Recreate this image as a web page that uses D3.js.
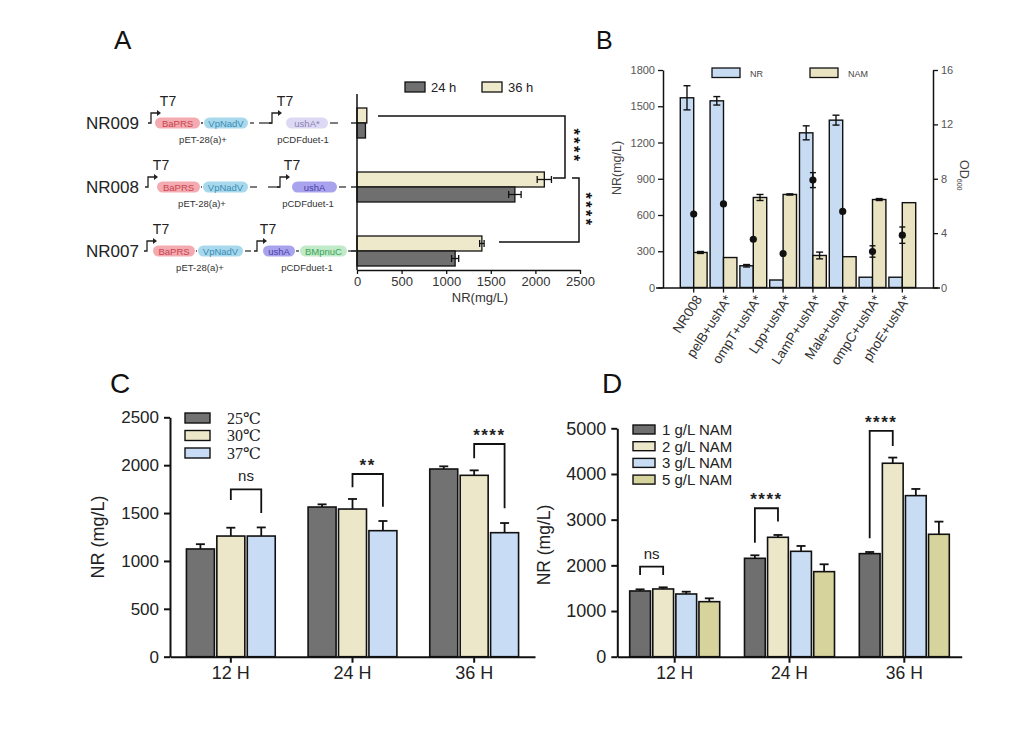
<!DOCTYPE html>
<html><head><meta charset="utf-8">
<script src="https://cdn.jsdelivr.net/npm/d3@7"></script>
<style>body{margin:0;background:#fff} svg{display:block}</style>
</head><body>
<svg id="chart" width="1024" height="738"></svg>
<script>
// ================= DATA =================
// Panel A
const aStrains = ["NR009", "NR008", "NR007"];
const aTimes = ["24 h", "36 h"];
const aNR24 = [95, 1770, 1100];
const aNR24Err = [0, 70, 40];
const aNR36 = [110, 2100, 1400];
const aNR36Err = [0, 80, 25];
const aTicks = [0, 500, 1000, 1500, 2000, 2500];
const aPlasmid1 = ["BaPRS", "VpNadV"];
const aPlasmid2 = [["ushA*"], ["ushA"], ["ushA", "BMpnuC"]];
const aBackbones = ["pET-28(a)+", "pCDFduet-1"];
const aPromoter = "T7";
const aSig = ["****", "****"];

// Panel B
const bCats = ["NR008", "pelB+ushA*", "ompT+ushA*", "Lpp+ushA*", "LamP+ushA*", "Male+ushA*", "ompC+ushA*", "phoE+ushA*"];
const bSeries = ["NR", "NAM"];
const bNR = [1570, 1545, 180, 62, 1280, 1385, 85, 85];
const bNRErr = [100, 35, 10, 0, 58, 41, 0, 0];
const bNAM = [290, 248, 745, 770, 265, 255, 728, 702];
const bNAMErr = [8, 0, 25, 5, 28, 0, 8, 0];
const bOD = [5.4, 6.15, 3.55, 2.5, 7.9, 5.6, 2.65, 3.85];
const bODErr = [0, 0, 0, 0, 0.55, 0, 0.42, 0.6];
const bLeftTicks = [0, 300, 600, 900, 1200, 1500, 1800];
const bRightTicks = [0, 4, 8, 12, 16];

// Panel C
const cTimes = ["12 H", "24 H", "36 H"];
const cTemps = ["25\u2103", "30\u2103", "37\u2103"];
const c25 = [1125, 1563, 1960];
const c30 = [1260, 1542, 1894];
const c37 = [1260, 1316, 1295];
const c25Err = [50, 28, 28];
const c30Err = [87, 105, 52];
const c37Err = [90, 101, 101];
const cTicks = [0, 500, 1000, 1500, 2000, 2500];
// brackets: [time, seriesFrom, seriesTo, top, leftEnd, rightEnd, label]
const cSig = [
  ["12 H", 1, 2, 1748, 1637, 1500, "ns"],
  ["24 H", 1, 2, 1908, 1769, 1566, "**"],
  ["36 H", 1, 2, 2221, 2072, 1550, "****"]
];

// Panel D
const dTimes = ["12 H", "24 H", "36 H"];
const dConc = ["1 g/L NAM", "2 g/L NAM", "3 g/L NAM", "5 g/L NAM"];
const d1 = [1439, 2154, 2256];
const d2 = [1483, 2614, 4235];
const d3v = [1373, 2307, 3526];
const d5 = [1205, 1862, 2680];
const d1Err = [36, 66, 36];
const d2Err = [36, 51, 124];
const d3Err = [50, 117, 146];
const d5Err = [73, 161, 277];
const dTicks = [0, 1000, 2000, 3000, 4000, 5000];
const dSig = [
  ["12 H", 0, 1, 1971, 1789, 1789, "ns"],
  ["24 H", 0, 1, 3250, 2497, 2957, "****"],
  ["36 H", 0, 1, 4943, 2593, 4614, "****"]
];

// ================= DRAW =================
const FONT = "'Liberation Sans', Arial, Helvetica, sans-serif";
const fmt = d3.format("d");
const svg = d3.select("#chart").style("font-family", FONT);
svg.append("rect").attr("width", 1024).attr("height", 738).attr("fill", "#fff");

function letter(t, x, y, s) {
  svg.append("text").attr("x", x).attr("y", y).attr("font-size", s).attr("fill", "#111").text(t);
}
letter("A", 114, 49, 26);
letter("B", 596, 49, 25);
letter("C", 110, 393, 28);
letter("D", 602, 393, 28);

// ---------- Panel A ----------
(function () {
  const g = svg.append("g");
  const x = d3.scaleLinear().domain([0, 2500]).range([357, 580]);
  const y = d3.scalePoint().domain(aStrains).range([123, 251]);
  const bh = 15;
  const col24 = "#6f6f6f", col36 = "#efe9cc";

  g.selectAll(".a36").data(aStrains).join("rect")
    .attr("x", x(0)).attr("y", d => y(d) - bh)
    .attr("width", (d, i) => x(aNR36[i]) - x(0)).attr("height", bh)
    .attr("fill", col36).attr("stroke", "#111").attr("stroke-width", 1.3);
  g.selectAll(".a24").data(aStrains).join("rect")
    .attr("x", x(0)).attr("y", d => y(d))
    .attr("width", (d, i) => x(aNR24[i]) - x(0)).attr("height", bh)
    .attr("fill", col24).attr("stroke", "#111").attr("stroke-width", 1.3);

  function herr(vals, errs, off) {
    aStrains.forEach((d, i) => {
      if (!errs[i]) return;
      const cy = y(d) + off;
      const x0 = x(vals[i] - errs[i]), x1 = x(vals[i] + errs[i]);
      g.append("line").attr("x1", x0).attr("x2", x1).attr("y1", cy).attr("y2", cy).attr("stroke", "#111").attr("stroke-width", 1.3);
      [x0, x1].forEach(xx => g.append("line").attr("x1", xx).attr("x2", xx).attr("y1", cy - 3.5).attr("y2", cy + 3.5).attr("stroke", "#111").attr("stroke-width", 1.3));
    });
  }
  herr(aNR36, aNR36Err, -bh / 2);
  herr(aNR24, aNR24Err, bh / 2);

  const xa = g.append("g").attr("transform", "translate(0,270)")
    .call(d3.axisBottom(x).tickValues(aTicks).tickFormat(fmt).tickSize(4).tickSizeOuter(0).tickPadding(3));
  xa.select(".domain").attr("stroke", "#111").attr("stroke-width", 1.5);
  xa.selectAll(".tick line").attr("stroke", "#111").attr("stroke-width", 1.3);
  xa.selectAll("text").attr("font-size", 13).attr("fill", "#333").attr("font-family", FONT);
  g.append("text").attr("x", 480).attr("y", 302).attr("text-anchor", "middle").attr("font-size", 13).attr("fill", "#333").text("NR(mg/L)");

  g.append("line").attr("x1", 357).attr("x2", 357).attr("y1", 94).attr("y2", 270).attr("stroke", "#111").attr("stroke-width", 1.5);
  g.selectAll(".ytk").data(aStrains).join("line")
    .attr("x1", 351).attr("x2", 357).attr("y1", d => y(d)).attr("y2", d => y(d)).attr("stroke", "#111").attr("stroke-width", 1.3);

  const leg = [[aTimes[0], col24, 405], [aTimes[1], col36, 482]];
  leg.forEach(([t, c, lx]) => {
    g.append("rect").attr("x", lx).attr("y", 82).attr("width", 20).attr("height", 10).attr("fill", c).attr("stroke", "#111").attr("stroke-width", 1.3);
    g.append("text").attr("x", lx + 26).attr("y", 92).attr("font-size", 13).attr("fill", "#222").text(t);
  });

  g.append("path").attr("d", "M378,116H565V178H553").attr("fill", "none").attr("stroke", "#111").attr("stroke-width", 1.5);
  g.append("path").attr("d", "M572,178H579V242H499").attr("fill", "none").attr("stroke", "#111").attr("stroke-width", 1.5);
  // vertical star labels (rotated text)
  function vstars(sx, cy, lab) {
    const fs = 16;
    g.append("text").attr("transform", `translate(${sx - 0.57 * fs},${cy}) rotate(90)`)
      .attr("text-anchor", "middle").attr("font-size", fs).attr("font-weight", "bold").attr("letter-spacing", 2.5)
      .attr("fill", "#111").text(lab);
  }
  vstars(577, 146, aSig[0]);
  vstars(589, 210, aSig[1]);

  // ---- construct schematics ----
  const geneStyle = {
    "BaPRS": ["#f3aab0", "#c8454f"],
    "VpNadV": ["#a8d8ec", "#3a8db6"],
    "ushA*": ["#ddd8f3", "#8a84b3"],
    "ushA": ["#a9a3ee", "#4a41a6"],
    "BMpnuC": ["#c0eac8", "#3ea55a"]
  };
  const rowLayout = [
    { p1: 151, pills1: [[155, 200], [204, 248]], dash1: [250, 254], lead2: [259, 272], p2: 272, pills2: [[286, 328]], tail: [330, 338], t1: 168, t2: 285, bb: [203, 303] },
    { p1: 148, pills1: [[157, 200], [203, 248]], dash1: [250, 257], lead2: [268, 280], p2: 280, pills2: [[292, 337]], tail: [339, 346], t1: 161, t2: 292, bb: [202, 308] },
    { p1: 147, pills1: [[153, 195], [198, 243]], dash1: [245, 251], lead2: null, p2: 257, pills2: [[263, 295], [300, 347]], tail: [348, 357], t1: 161, t2: 268, bb: [200, 307] }
  ];
  const ph = 11;
  function promoter(px, cy) {
    g.append("path").attr("d", `M${px - 3},${cy}H${px}V${cy - 10}H${px + 7}`).attr("fill", "none").attr("stroke", "#222").attr("stroke-width", 1.3);
    g.append("path").attr("d", `M${px + 6},${cy - 13}L${px + 10},${cy - 10}L${px + 6},${cy - 7}Z`).attr("fill", "#222");
  }
  function seg(x0, x1, cy) {
    g.append("line").attr("x1", x0).attr("x2", x1).attr("y1", cy).attr("y2", cy).attr("stroke", "#333").attr("stroke-width", 1.3);
  }
  function pill(name, x0, x1, cy) {
    const st = geneStyle[name];
    g.append("rect").attr("x", x0).attr("y", cy - ph / 2).attr("width", x1 - x0).attr("height", ph).attr("rx", ph / 2)
      .attr("fill", st[0]);
    g.append("text").attr("x", (x0 + x1) / 2).attr("y", cy + 3.5).attr("text-anchor", "middle").attr("font-size", 9.5)
      .attr("fill", st[1]).text(name);
  }
  aStrains.forEach((s, i) => {
    const cy = y(s);
    const L = rowLayout[i];
    g.append("text").attr("x", 86).attr("y", cy + 6).attr("font-size", 17).attr("fill", "#222").text(s);
    promoter(L.p1, cy);
    aPlasmid1.forEach((gn, k) => pill(gn, L.pills1[k][0], L.pills1[k][1], cy));
    seg(L.pills1[0][1] + 1, L.pills1[1][0] - 1, cy);
    seg(L.dash1[0], L.dash1[1], cy);
    if (L.lead2) seg(L.lead2[0], L.lead2[1], cy);
    promoter(L.p2, cy);
    aPlasmid2[i].forEach((gn, k) => pill(gn, L.pills2[k][0], L.pills2[k][1], cy));
    if (aPlasmid2[i].length > 1) seg(L.pills2[0][1] + 1, L.pills2[1][0] - 1, cy);
    seg(L.tail[0], L.tail[1], cy);
    g.append("text").attr("x", L.t1).attr("y", cy - 17).attr("text-anchor", "middle").attr("font-size", 14).attr("fill", "#222").text(aPromoter);
    g.append("text").attr("x", L.t2).attr("y", cy - 17).attr("text-anchor", "middle").attr("font-size", 14).attr("fill", "#222").text(aPromoter);
    aBackbones.forEach((b, k) => g.append("text").attr("x", L.bb[k]).attr("y", cy + 20).attr("text-anchor", "middle")
      .attr("font-size", 9.5).attr("fill", "#333").text(b));
  });
})();

// ---------- Panel B ----------
(function () {
  const g = svg.append("g");
  const x = d3.scaleBand().domain(bCats).range([663, 933]).paddingInner(0.1).paddingOuter(0.58);
  const yl = d3.scaleLinear().domain([0, 1800]).range([287.5, 70]);
  const yr = d3.scaleLinear().domain([0, 16]).range([287.5, 70]);
  const bw = x.bandwidth() / 2;
  const cNR = "#c7dbf3", cNAM = "#e9e3c2";

  g.selectAll(".bnr").data(bCats).join("rect")
    .attr("x", d => x(d)).attr("y", (d, i) => yl(bNR[i])).attr("width", bw).attr("height", (d, i) => yl(0) - yl(bNR[i]))
    .attr("fill", cNR).attr("stroke", "#111").attr("stroke-width", 1.4);
  g.selectAll(".bnam").data(bCats).join("rect")
    .attr("x", d => x(d) + bw).attr("y", (d, i) => yl(bNAM[i])).attr("width", bw).attr("height", (d, i) => yl(0) - yl(bNAM[i]))
    .attr("fill", cNAM).attr("stroke", "#111").attr("stroke-width", 1.4);

  function verr(cx, yv0, yv1, cap) {
    g.append("line").attr("x1", cx).attr("x2", cx).attr("y1", yv0).attr("y2", yv1).attr("stroke", "#111").attr("stroke-width", 1.4);
    [yv0, yv1].forEach(yy => g.append("line").attr("x1", cx - cap).attr("x2", cx + cap).attr("y1", yy).attr("y2", yy).attr("stroke", "#111").attr("stroke-width", 1.4));
  }
  bCats.forEach((d, i) => {
    if (bNRErr[i]) verr(x(d) + bw / 2, yl(bNR[i] + bNRErr[i]), yl(bNR[i] - bNRErr[i]), 3.5);
    if (bNAMErr[i]) verr(x(d) + bw * 1.5, yl(bNAM[i] + bNAMErr[i]), yl(bNAM[i] - bNAMErr[i]), 3.5);
    if (bODErr[i]) verr(x(d) + bw, yr(bOD[i] + bODErr[i]), yr(bOD[i] - bODErr[i]), 3);
  });
  g.selectAll(".od").data(bCats).join("circle")
    .attr("cx", d => x(d) + bw).attr("cy", (d, i) => yr(bOD[i])).attr("r", 3.6).attr("fill", "#111");

  const la = g.append("g").attr("transform", "translate(663,0)")
    .call(d3.axisLeft(yl).tickValues(bLeftTicks).tickFormat(fmt).tickSize(5).tickSizeOuter(0).tickPadding(3));
  const ra = g.append("g").attr("transform", "translate(933,0)")
    .call(d3.axisRight(yr).tickValues(bRightTicks).tickFormat(fmt).tickSize(5).tickSizeOuter(0).tickPadding(3));
  [la, ra].forEach(a => {
    a.select(".domain").attr("stroke", "#111").attr("stroke-width", 1.5);
    a.selectAll(".tick line").attr("stroke", "#111").attr("stroke-width", 1.3);
    a.selectAll("text").attr("font-size", 11).attr("fill", "#555").attr("font-family", FONT);
  });
  const xa = g.append("g").attr("transform", "translate(0,287.5)")
    .call(d3.axisBottom(x).tickSize(5).tickSizeOuter(0));
  xa.select(".domain").attr("stroke", "#111").attr("stroke-width", 1.5).attr("d", "M656,0.5H940");
  xa.selectAll(".tick line").attr("stroke", "#111").attr("stroke-width", 1.3);
  xa.selectAll("text").attr("font-size", 13.5).attr("fill", "#333").attr("font-family", FONT)
    .attr("y", null).attr("dy", "0.35em").attr("text-anchor", "end")
    .attr("transform", "translate(5,9) rotate(-57)");

  g.append("text").attr("transform", "translate(621,168) rotate(-90)").attr("text-anchor", "middle")
    .attr("font-size", 12.5).attr("fill", "#444").text("NR(mg/L)");
  const od = g.append("text").attr("transform", "translate(960,160) rotate(90)").attr("font-size", 12.5).attr("fill", "#444");
  od.append("tspan").text("OD");
  od.append("tspan").attr("font-size", 7).attr("dy", 3).text("600");

  [[bSeries[0], cNR, 712], [bSeries[1], cNAM, 810]].forEach(([t, c, lx]) => {
    g.append("rect").attr("x", lx).attr("y", 68).attr("width", 28).attr("height", 9.5).attr("fill", c).attr("stroke", "#111").attr("stroke-width", 1.3);
    g.append("text").attr("x", lx + 38).attr("y", 76.5).attr("font-size", 9).attr("fill", "#444").text(t);
  });
})();

// ---------- grouped bar helper for C & D ----------
function groupedPanel(opt) {
  const g = svg.append("g");
  const x = d3.scaleBand().domain(opt.groups).range(opt.xr).paddingInner(opt.pin).paddingOuter(opt.pin / 2);
  const xi = d3.scaleBand().domain(d3.range(opt.series.length)).range([0, x.bandwidth()]).paddingInner(opt.spin);
  const y = d3.scaleLinear().domain([0, opt.ymax]).range(opt.yr);

  opt.series.forEach((s, k) => {
    g.selectAll(".s" + k).data(opt.groups).join("rect")
      .attr("x", d => x(d) + xi(k)).attr("y", (d, i) => y(opt.vals[k][i]))
      .attr("width", xi.bandwidth()).attr("height", (d, i) => y(0) - y(opt.vals[k][i]))
      .attr("fill", opt.colors[k]).attr("stroke", "#111").attr("stroke-width", 1.6);
    opt.groups.forEach((d, i) => {
      const cx = x(d) + xi(k) + xi.bandwidth() / 2;
      const y0 = y(opt.vals[k][i]), y1 = y(opt.vals[k][i] + opt.errs[k][i]);
      g.append("line").attr("x1", cx).attr("x2", cx).attr("y1", y0).attr("y2", y1).attr("stroke", "#111").attr("stroke-width", 1.8);
      g.append("line").attr("x1", cx - opt.cap).attr("x2", cx + opt.cap).attr("y1", y1).attr("y2", y1).attr("stroke", "#111").attr("stroke-width", 1.8);
    });
  });

  const ya = g.append("g").attr("transform", `translate(${opt.xr[0]},0)`)
    .call(d3.axisLeft(y).tickValues(opt.ticks).tickFormat(fmt).tickSize(6).tickSizeOuter(0).tickPadding(5));
  const xa = g.append("g").attr("transform", `translate(0,${opt.yr[0]})`)
    .call(d3.axisBottom(x).tickSize(6).tickSizeOuter(0).tickPadding(4));
  [ya, xa].forEach(a => {
    a.select(".domain").attr("stroke", "#111").attr("stroke-width", 2);
    a.selectAll(".tick line").attr("stroke", "#111").attr("stroke-width", 2);
    a.selectAll("text").attr("fill", "#222").attr("font-family", FONT);
  });
  ya.selectAll("text").attr("font-size", opt.yfs);
  xa.selectAll("text").attr("font-size", opt.xfs);
  g.append("text").attr("transform", `translate(${opt.titleX},${opt.titleY}) rotate(-90)`).attr("text-anchor", "middle")
    .attr("font-size", opt.tfs).attr("fill", "#222").text("NR (mg/L)");

  opt.series.forEach((s, k) => {
    const ly = opt.leg.y + k * opt.leg.dy;
    g.append("rect").attr("x", opt.leg.x).attr("y", ly).attr("width", opt.leg.w).attr("height", opt.leg.h)
      .attr("fill", opt.colors[k]).attr("stroke", "#111").attr("stroke-width", 1.4);
    g.append("text").attr("x", opt.leg.tx).attr("y", ly + opt.leg.h / 2).attr("dy", "0.36em")
      .attr("font-size", opt.leg.fs).attr("font-family", opt.leg.font).attr("fill", "#222").text(s);
  });

  opt.sig.forEach(([grp, a, b, top, le, re, lab]) => {
    const xa0 = x(grp) + xi(a) + xi.bandwidth() / 2, xb0 = x(grp) + xi(b) + xi.bandwidth() / 2;
    g.append("path").attr("d", `M${xa0},${y(le)}V${y(top)}H${xb0}V${y(re)}`).attr("fill", "none").attr("stroke", "#111").attr("stroke-width", 1.8);
    const isNs = lab === "ns";
    g.append("text").attr("x", (xa0 + xb0) / 2).attr("y", y(top) - (isNs ? 8 : 3)).attr("text-anchor", "middle")
      .attr("font-size", isNs ? 15 : 17).attr("letter-spacing", isNs ? 0 : 1.5).attr("font-weight", isNs ? "normal" : "bold")
      .attr("fill", "#222").text(lab);
  });
}

groupedPanel({
  groups: cTimes, series: cTemps, vals: [c25, c30, c37], errs: [c25Err, c30Err, c37Err],
  colors: ["#727272", "#ede7ca", "#c8dcf5"],
  xr: [170, 535], yr: [656.7, 417.3], ymax: 2500, ticks: cTicks, pin: 0.27, spin: 0.08, cap: 4.5,
  yfs: 17, xfs: 18, tfs: 18, titleX: 104, titleY: 537,
  leg: { x: 185, y: 413, dy: 17.5, w: 25, h: 10, tx: 227, fs: 16, font: "'Liberation Serif', 'DejaVu Serif', serif" },
  sig: cSig
});

groupedPanel({
  groups: dTimes, series: dConc, vals: [d1, d2, d3v, d5], errs: [d1Err, d2Err, d3Err, d5Err],
  colors: ["#6f6f6f", "#ede7ca", "#c8dcf4", "#d7d39d"],
  xr: [617.3, 961.7], yr: [656.7, 428.3], ymax: 5000, ticks: dTicks, pin: 0.216, spin: 0.1, cap: 4.5,
  yfs: 18, xfs: 17.5, tfs: 17.5, titleX: 550, titleY: 545,
  leg: { x: 633, y: 425, dy: 16.7, w: 22, h: 9, tx: 662, fs: 15, font: FONT },
  sig: dSig
});
</script>
</body></html>
